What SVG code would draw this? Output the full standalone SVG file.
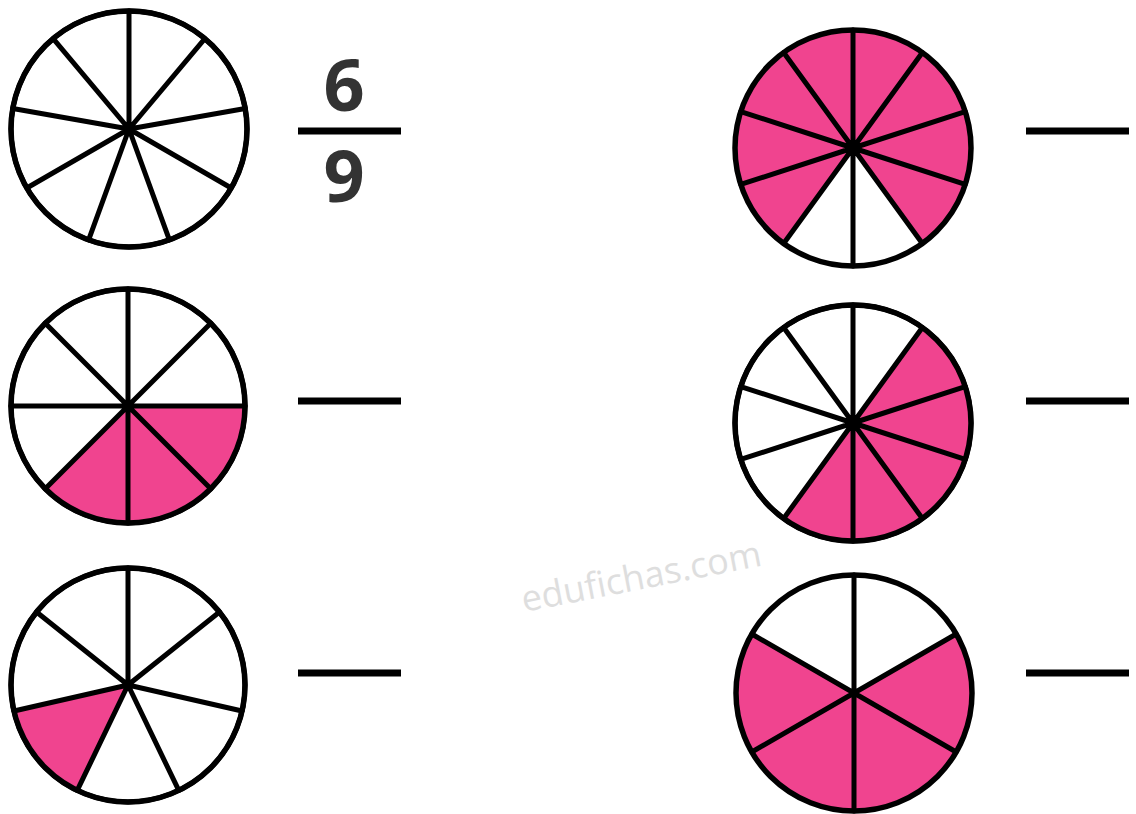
<svg xmlns="http://www.w3.org/2000/svg" width="1136" height="814" viewBox="0 0 1136 814">
<style>
.o{fill:#fff;stroke:#000;stroke-width:5}
.pk{fill:#f0448f}
.wh{fill:#fff}
.ln{stroke:#000;stroke-width:5;stroke-linecap:round;fill:none}
.rim{fill:none;stroke:#000;stroke-width:5.5}
.bar{stroke:#000;stroke-width:7}
.num{font-family:"Open Sans","Noto Sans",sans-serif;font-weight:bold;font-size:72px;fill:#333;text-anchor:middle}
.wm{font-family:"Open Sans","Noto Sans",sans-serif;font-size:36px;fill:#dedede}
</style>
<rect width="1136" height="814" fill="#fff"/>
<text class="wm" transform="translate(524,612) rotate(-11)">edufichas.com</text>

<g id="circle1">
<circle cx="129" cy="129" r="118" class="o"/>
<path class="ln" d="M129,129L129,11M129,129L204.85,38.61M129,129L245.21,108.51M129,129L231.19,188M129,129L169.36,239.88M129,129L88.64,239.88M129,129L26.81,188M129,129L12.79,108.51M129,129L53.15,38.61"/>
<circle cx="129" cy="129" r="118" class="rim"/>
</g>

<g id="circle2">
<circle cx="128" cy="406" r="117" class="o"/>
<path class="pk" d="M128,406L45.27,488.73A117,117 0 0 0 245,406Z"/>
<path class="ln" d="M11,406L245,406M128,289L128,523M210.73,323.27L45.27,488.73M45.27,323.27L210.73,488.73"/>
<circle cx="128" cy="406" r="117" class="rim"/>
</g>

<g id="circle3">
<circle cx="128" cy="685" r="117" class="o"/>
<path class="pk" d="M128,685L13.94,711.03A117,117 0 0 0 77.23,790.42Z"/>
<path class="ln" d="M128,685L128,568M128,685L219.47,612.05M128,685L242.06,711.03M128,685L178.77,790.42M128,685L77.23,790.42M128,685L13.94,711.03M128,685L36.53,612.05"/>
<circle cx="128" cy="685" r="117" class="rim"/>
</g>

<g id="circle4">
<circle cx="853" cy="148" r="118" class="pk"/>
<path class="wh" d="M853,148L783.64,243.46A118,118 0 0 0 922.36,243.46Z"/>
<path class="ln" d="M853,148L853,30M853,148L922.36,52.54M853,148L965.23,111.54M853,148L965.23,184.46M853,148L922.36,243.46M853,148L853,266M853,148L783.64,243.46M853,148L740.77,184.46M853,148L740.77,111.54M853,148L783.64,52.54"/>
<circle cx="853" cy="148" r="118" class="rim"/>
</g>

<g id="circle5">
<circle cx="853" cy="423" r="118" class="o"/>
<path class="pk" d="M853,423L783.64,518.46A118,118 0 0 0 922.36,327.54Z"/>
<path class="ln" d="M853,423L853,305M853,423L922.36,327.54M853,423L965.23,386.54M853,423L965.23,459.46M853,423L922.36,518.46M853,423L853,541M853,423L783.64,518.46M853,423L740.77,459.46M853,423L740.77,386.54M853,423L783.64,327.54"/>
<circle cx="853" cy="423" r="118" class="rim"/>
</g>

<g id="circle6">
<circle cx="854" cy="693" r="118" class="pk"/>
<path class="wh" d="M854,693L956.19,634A118,118 0 0 0 751.81,634Z"/>
<path class="ln" d="M854,693L854,575M854,693L956.19,634M854,693L956.19,752M854,693L854,811M854,693L751.81,752M854,693L751.81,634"/>
<circle cx="854" cy="693" r="118" class="rim"/>
</g>

<g id="fraction">
<text class="num" x="344" y="111">6</text>
<line class="bar" x1="298" y1="131" x2="401" y2="131"/>
<text class="num" x="344" y="202">9</text>
</g>

<g id="blanks">
<line class="bar" x1="298" y1="401" x2="401" y2="401"/>
<line class="bar" x1="298" y1="673" x2="401" y2="673"/>
<line class="bar" x1="1026" y1="131" x2="1129" y2="131"/>
<line class="bar" x1="1026" y1="401" x2="1129" y2="401"/>
<line class="bar" x1="1026" y1="673" x2="1129" y2="673"/>
</g>
</svg>
